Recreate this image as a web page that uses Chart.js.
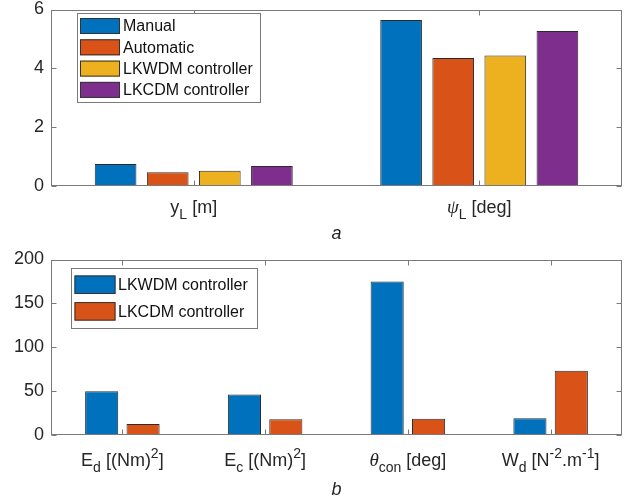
<!DOCTYPE html>
<html><head><meta charset="utf-8">
<script src="https://cdn.jsdelivr.net/npm/chart.js@4"></script>
<style>
html,body{margin:0;padding:0;background:#fff;width:633px;height:504px;overflow:hidden}
canvas{position:absolute;left:0}
#c1{top:0}
#c2{top:248px}
</style></head><body>
<canvas id="c1" width="633" height="252"></canvas>
<canvas id="c2" width="633" height="256"></canvas>
<script>
// ---------- data ----------
const topCategories = ['y_L [m]', 'ψ_L [deg]'];
const topSeriesNames = ['Manual', 'Automatic', 'LKWDM controller', 'LKCDM controller'];
const topManual = [0.74, 5.64];
const topAutomatic = [0.46, 4.35];
const topLKWDM = [0.51, 4.43];
const topLKCDM = [0.67, 5.27];
const topYTicks = [0, 2, 4, 6];
const topCaption = 'a';

const bottomCategories = ['E_d [(Nm)^2]', 'E_c [(Nm)^2]', 'θ_{con} [deg]', 'W_d [N^{-2}.m^{-1}]'];
const bottomSeriesNames = ['LKWDM controller', 'LKCDM controller'];
const bottomLKWDM = [50.0, 46.3, 175.0, 19.5];
const bottomLKCDM = [12.8, 18.2, 18.8, 73.5];
const bottomYTicks = [0, 50, 100, 150, 200];
const bottomCaption = 'b';

const seriesColors = ['#0072BD', '#D95319', '#EDB120', '#7E2F8E'];

// ---------- helpers ----------
const SANS = '"Liberation Sans", Arial, Helvetica, sans-serif';
const SERIF = '"Liberation Serif", "Times New Roman", serif';
const TXT = '#262626';

function parseTex(str) {
  const segs = []; let i = 0; let buf = '';
  const push = (t, type) => { if (t) segs.push({ t, type }); };
  while (i < str.length) {
    const c = str[i];
    if (c === '_' || c === '^') {
      push(buf, 'n'); buf = '';
      const type = c === '_' ? 'sub' : 'sup';
      i++;
      let t = '';
      if (str[i] === '{') { const j = str.indexOf('}', i); t = str.slice(i + 1, j); i = j + 1; }
      else { t = str[i]; i++; }
      push(t, type);
    } else { buf += c; i++; }
  }
  push(buf, 'n');
  const out = [];
  segs.forEach(s => {
    const parts = s.t.split(/([\u0370-\u03FF]+)/).filter(p => p.length);
    parts.forEach(p => out.push({ t: p, type: s.type, greek: /[\u0370-\u03FF]/.test(p) }));
  });
  return out;
}

function fontFor(seg, F) {
  const size = seg.type === 'n' ? F : Math.round(F * 0.8);
  if (seg.greek) return 'italic ' + (size + 1) + 'px ' + SERIF;
  return size + 'px ' + SANS;
}

function drawTex(ctx, str, cx, baseY, F) {
  const segs = parseTex(str);
  let total = 0;
  segs.forEach(s => { ctx.font = fontFor(s, F); s.w = ctx.measureText(s.t).width; total += s.w; });
  let x = cx - total / 2;
  ctx.textAlign = 'left'; ctx.textBaseline = 'alphabetic';
  segs.forEach(s => {
    ctx.font = fontFor(s, F);
    let dy = 0;
    if (s.type === 'sub') dy = F * 0.34;
    if (s.type === 'sup') dy = -F * 0.42;
    ctx.fillText(s.t, x, baseY + dy);
    x += s.w;
  });
}

const deco = {
  id: 'deco',
  afterDraw(chart, args, o) {
    const ctx = chart.ctx; const a = chart.chartArea;
    const xs = chart.scales.x, ys = chart.scales.y;
    ctx.save();
    ctx.strokeStyle = '#7a7a7a'; ctx.lineWidth = 1;
    const L = Math.round(a.left) + 0.5, R = Math.round(a.right) - 0.5;
    const T = Math.round(a.top) + 0.5, B = Math.round(a.bottom) - 0.5;
    ctx.strokeRect(L, T, R - L, B - T);
    ctx.beginPath();
    ys.ticks.forEach(t => {
      const py = Math.round(ys.getPixelForValue(t.value)) + 0.5;
      ctx.moveTo(L, py); ctx.lineTo(L + 5, py);
      ctx.moveTo(R, py); ctx.lineTo(R - 5, py);
    });
    chart.data.labels.forEach((lab, i) => {
      const px = Math.round(xs.getPixelForValue(i)) + 0.5;
      ctx.moveTo(px, B); ctx.lineTo(px, B - 5);
      ctx.moveTo(px, T); ctx.lineTo(px, T + 5);
    });
    ctx.stroke();

    ctx.fillStyle = TXT;
    chart.data.labels.forEach((lab, i) => {
      drawTex(ctx, lab, xs.getPixelForValue(i), o.labelBaseline, o.fontSize);
    });
    ctx.font = 'italic ' + o.fontSize + 'px ' + SANS;
    ctx.textAlign = 'center'; ctx.textBaseline = 'alphabetic';
    ctx.fillText(o.caption, (a.left + a.right) / 2, o.captionBaseline);

    const lg = o.legend;
    ctx.fillStyle = '#fff';
    ctx.fillRect(lg.x, lg.y, lg.w, lg.h);
    ctx.strokeStyle = '#7a7a7a';
    ctx.strokeRect(Math.round(lg.x) + 0.5, Math.round(lg.y) + 0.5, Math.round(lg.w), Math.round(lg.h));
    chart.data.datasets.forEach((ds, i) => {
      const sy = lg.swTop + i * lg.pitch;
      ctx.fillStyle = ds.backgroundColor;
      ctx.fillRect(lg.swX, sy, lg.swW, lg.swH);
      ctx.strokeStyle = '#333';
      ctx.strokeRect(lg.swX + 0.5, sy + 0.5, lg.swW - 1, lg.swH - 1);
      ctx.fillStyle = '#111';
      ctx.font = lg.font + 'px ' + SANS;
      ctx.textAlign = 'left'; ctx.textBaseline = 'middle';
      ctx.fillText(ds.label, lg.textX, sy + lg.swH / 2 + 1);
    });
    ctx.restore();
  }
};

function zeroPad(s) { s.paddingTop = 0; s.paddingBottom = 0; s.paddingLeft = 0; s.paddingRight = 0; }

function makeChart(id, labels, names, series, ticks, yMax, cfg) {
  return new Chart(document.getElementById(id), {
    type: 'bar',
    data: {
      labels: labels,
      datasets: series.map((d, i) => ({
        label: names[i], data: d,
        backgroundColor: cfg.colors[i],
        borderColor: '#2b2b2b', borderWidth: 1,
        categoryPercentage: cfg.catPct, barPercentage: cfg.barPct
      }))
    },
    options: {
      responsive: false, animation: false, devicePixelRatio: 1,
      layout: { padding: { top: cfg.padTop, right: cfg.padRight, left: 0, bottom: 0 } },
      plugins: { legend: { display: false }, tooltip: { enabled: false }, deco: cfg.deco },
      scales: {
        x: {
          grid: { display: false, drawTicks: false }, border: { display: false },
          ticks: { display: false },
          afterFit: s => { s.height = cfg.xHeight; zeroPad(s); }
        },
        y: {
          min: 0, max: yMax,
          grid: { display: false, drawTicks: false }, border: { display: false },
          ticks: { color: TXT, padding: 7, font: { family: SANS, size: 18 } },
          afterBuildTicks: s => { s.ticks = ticks.map(v => ({ value: v })); },
          afterFit: s => { s.width = 51; zeroPad(s); }
        }
      }
    },
    plugins: [deco]
  });
}

makeChart('c1', topCategories, topSeriesNames, [topManual, topAutomatic, topLKWDM, topLKCDM], topYTicks, 6, {
  colors: seriesColors, catPct: 0.73, barPct: 0.80,
  padTop: 9.5, padRight: 11, xHeight: 252 - 185.7,
  deco: {
    fontSize: 18, labelBaseline: 213, caption: topCaption, captionBaseline: 239,
    legend: { x: 76.5, y: 13, w: 182.5, h: 89, swX: 80, swW: 40, swH: 16, swTop: 18, pitch: 21.3, textX: 123, font: 16 }
  }
});

makeChart('c2', bottomCategories, bottomSeriesNames, [bottomLKWDM, bottomLKCDM], bottomYTicks, 200, {
  colors: seriesColors, catPct: 0.58, barPct: 0.80,
  padTop: 11.5, padRight: 11, xHeight: 256 - (435.3 - 248),
  deco: {
    fontSize: 18, labelBaseline: 466 - 248, caption: bottomCaption, captionBaseline: 495 - 248,
    legend: { x: 70.5, y: 268 - 248, w: 186, h: 59.5, swX: 74.5, swW: 41, swH: 18.5, swTop: 275.5 - 248, pitch: 26.6, textX: 118, font: 16 }
  }
});
</script>
</body></html>
